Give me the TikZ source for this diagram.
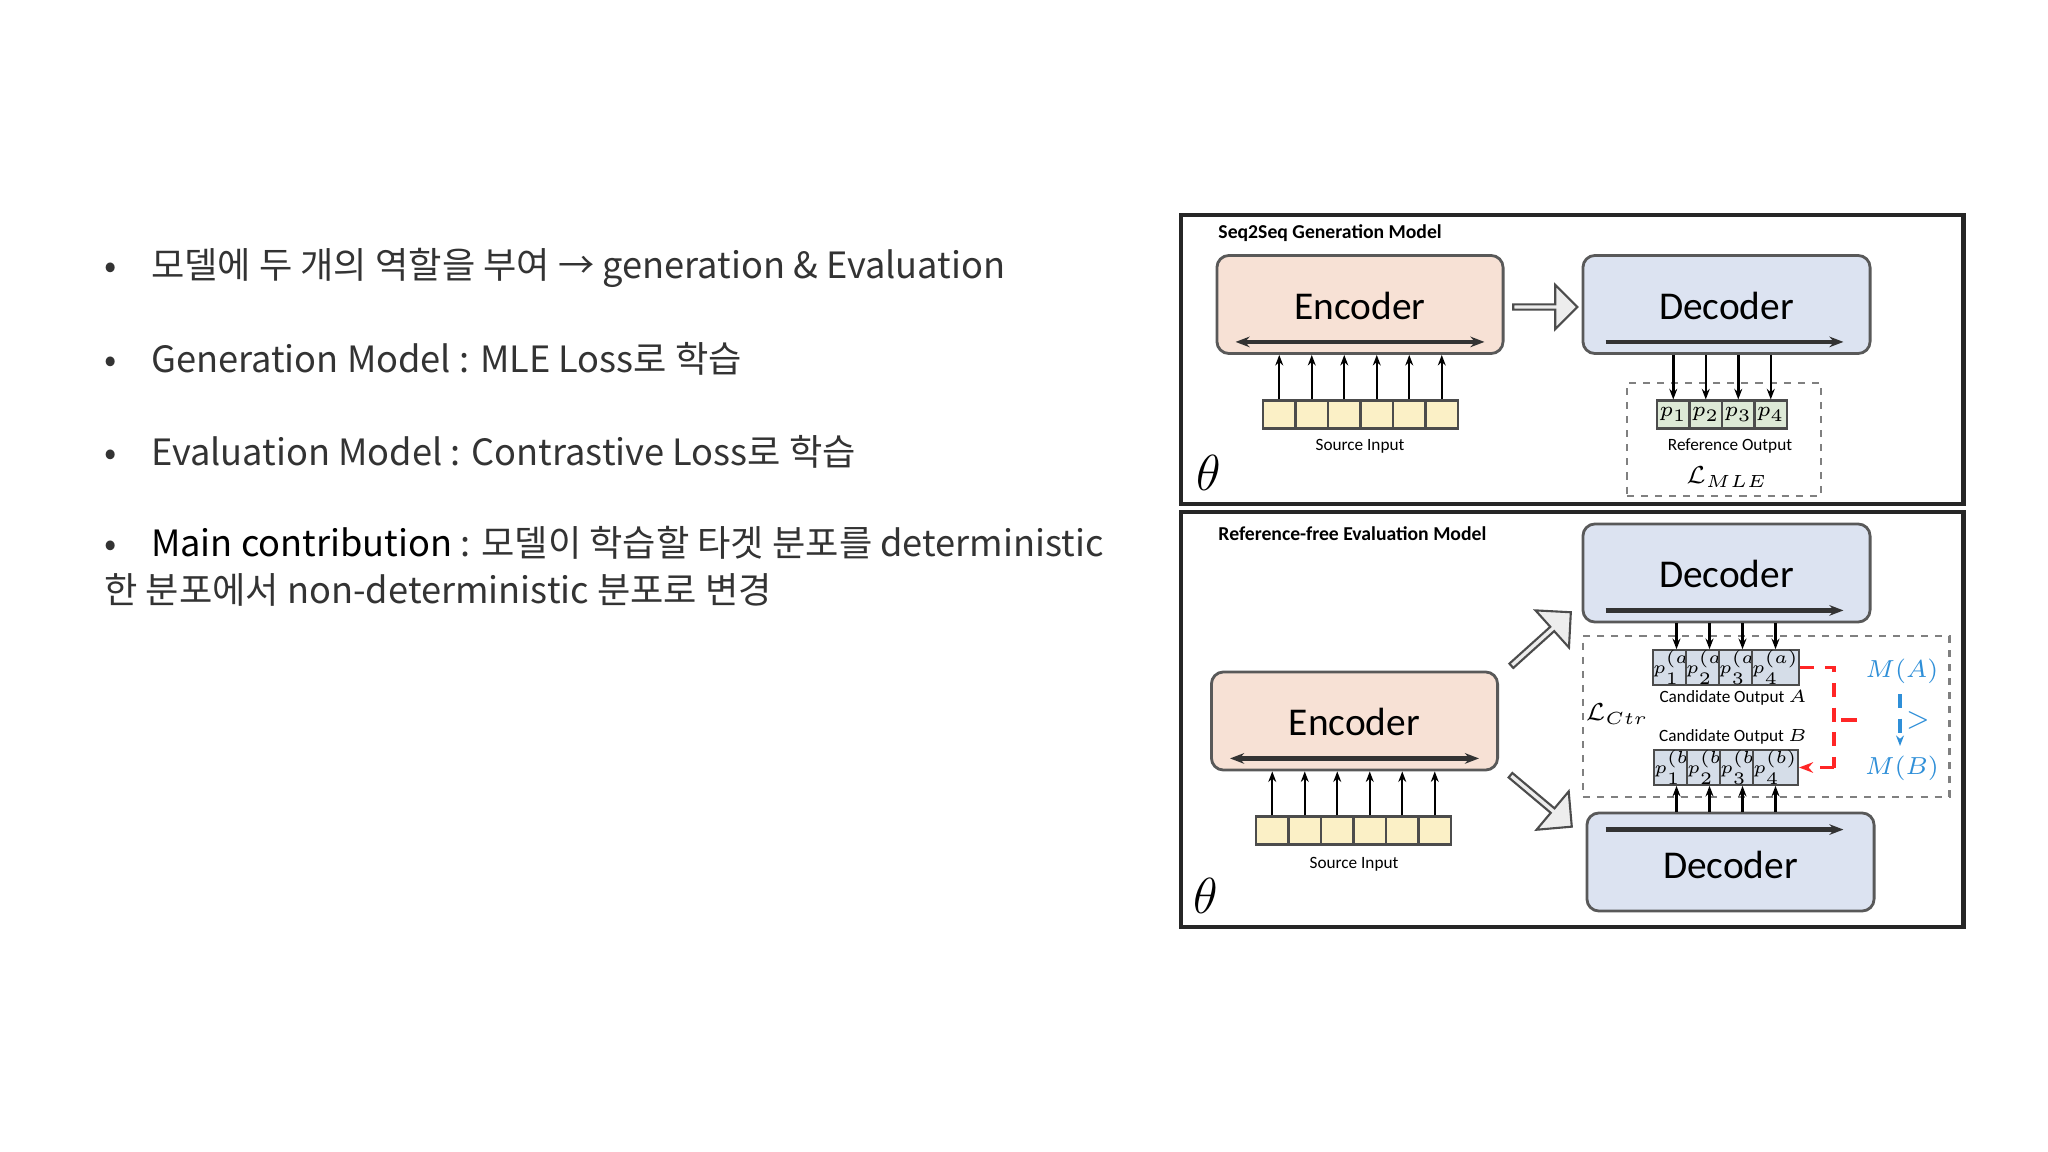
\documentclass[tikz,border=0pt]{standalone}
\usepackage{fontspec}
\setmainfont{Carlito}
\newfontfamily\kr{Noto Sans CJK KR}
\usetikzlibrary{shapes.arrows,arrows.meta}
\definecolor{encf}{HTML}{F7E1D5}
\definecolor{decf}{HTML}{DCE3F1}
\definecolor{srcf}{HTML}{FBF0C6}
\definecolor{pf}{HTML}{DDE9D6}
\definecolor{pcf}{HTML}{D5DDE8}
\definecolor{mblue}{HTML}{2F8FD8}
\tikzset{
 enc/.style={draw=black!65,fill=encf,rounded corners=0.12cm,line width=0.8pt,minimum width=2.86cm,minimum height=0.98cm},
 dec/.style={draw=black!65,fill=decf,rounded corners=0.12cm,line width=0.8pt,minimum width=2.87cm,minimum height=0.98cm},
 boxtxt/.style={font=\fontsize{11.2}{13}\selectfont},
 cell/.style={draw=black!70,minimum width=0.325cm,minimum height=0.28cm,inner sep=0,line width=0.6pt},
 blk/.style={single arrow,draw=black!70,fill=black!7,line width=0.6pt,minimum height=0.8cm,minimum width=0.5cm,single arrow head extend=0.08cm,inner sep=0},
 frame/.style={draw=black!85,line width=1.3pt},
 ttl/.style={font=\bfseries\fontsize{5.6}{7}\selectfont,anchor=west},
 small/.style={font=\fontsize{4.9}{6}\selectfont},
 bul/.style={anchor=west,font=\kr\fontsize{10.3}{12}\selectfont,text=black!80},
 thn/.style={-{Stealth[length=3pt]},line width=0.7pt},
 dsh/.style={draw=black!50,dashed,line width=0.8pt,dash pattern=on 2pt off 2pt},
 qcell/.style={cell,fill=pcf,minimum width=0.33cm,font=\fontsize{4.2}{5}\selectfont}
}
\begin{document}
\begin{tikzpicture}[x=0.01cm,y=-0.01cm]
\useasboundingbox (0,0) rectangle (2048,1152);
% left text
\node[bul] (b1) at (92,268) {•\hspace{0.95em}모델에 두 개의 역할을 부여 → generation \& Evaluation};
\node[bul] (b2) at (92,359) {•\hspace{0.95em}Generation Model : MLE Loss로 학습};
\node[bul] (b3) at (92,452) {•\hspace{0.95em}Evaluation Model : Contrastive Loss로 학습};
\node[bul] (b4) at (92,543) {•\hspace{0.95em}{\color{black}Main contribution} : 모델이 학습할 타겟 분포를 deterministic};
\node[bul] (b5) at (92,590) {한 분포에서 non-deterministic 분포로 변경};
% top frame
\node[frame,minimum width=7.82cm,minimum height=2.89cm,inner sep=0] (f1) at (1572,359.5) {};
\node[ttl] (t1) at (1206,233) {Seq2Seq Generation Model};
\node[enc] (e1) at (1360,304.5) {};
\node[boxtxt] (e1t) at (1360,306) {Encoder};
\node[dec] (d1) at (1726.5,304.5) {};
\node[boxtxt] (d1t) at (1726.5,306) {Decoder};
\node[blk,minimum height=0.64cm,minimum width=0.44cm] (a1) at (1544,307) {};
\draw[{Stealth[length=4pt]}-{Stealth[length=4pt]},line width=1.2pt,black!80] ([xshift=0.2cm,yshift=0.13cm]e1.south west) -- ([xshift=-0.2cm,yshift=0.13cm]e1.south east);
\draw[-{Stealth[length=4pt]},line width=1.2pt,black!80] ([xshift=0.24cm,yshift=0.13cm]d1.south west) -- ([xshift=-0.28cm,yshift=0.13cm]d1.south east);
\foreach \i in {1,...,6}{
 \node[cell,fill=srcf] (s\i) at (1263+32.5*\i-16.25,414.5) {};
 \draw[thn] (s\i.north) -- (s\i.north |- e1.south);
}
\node[small] (sl) at (1360,446) {Source Input};
\node[dsh,minimum width=1.94cm,minimum height=1.13cm] (db1) at (1724,439.5) {};
\foreach \i in {1,...,4}{
 \node[cell,fill=pf,font=\fontsize{6}{7}\selectfont] (p\i) at (1657+32.5*\i-16.25,414.5) {$p_{\i}$};
 \draw[thn] (p\i.north |- d1.south) -- (p\i.north);
}
\node[small] (rl) at (1730,446) {Reference Output};
\node[font=\fontsize{7.5}{9}\selectfont] (lm) at (1727,477) {$\mathcal{L}_{MLE}$};
\node[font=\fontsize{14}{16}\selectfont] (th1) at (1209,473) {$\theta$};
% bottom frame
\node[frame,minimum width=7.82cm,minimum height=4.15cm,inner sep=0] (f2) at (1572,719.5) {};
\node[ttl] (t2) at (1206,534) {Reference-free Evaluation Model};
\node[dsh,minimum width=3.66cm,minimum height=1.61cm] (db2) at (1766,716.5) {};
\node[dec] (d2) at (1726.5,573) {};
\node[boxtxt] (d2t) at (1726.5,574) {Decoder};
\draw[-{Stealth[length=4pt]},line width=1.2pt,black!80] ([xshift=0.24cm,yshift=0.13cm]d2.south west) -- ([xshift=-0.28cm,yshift=0.13cm]d2.south east);
\node[dec] (d3) at (1730.5,862) {};
\node[boxtxt] (d3t) at (1730.5,865) {Decoder};
\draw[-{Stealth[length=4pt]},line width=1.2pt,black!80] ([xshift=0.2cm,yshift=-0.18cm]d3.north west) -- ([xshift=-0.32cm,yshift=-0.18cm]d3.north east);
\node[enc] (e2) at (1354.5,721) {};
\node[boxtxt] (e2t) at (1354.5,722) {Encoder};
\draw[{Stealth[length=4pt]}-{Stealth[length=4pt]},line width=1.2pt,black!80] ([xshift=0.2cm,yshift=0.13cm]e2.south west) -- ([xshift=-0.2cm,yshift=0.13cm]e2.south east);
\foreach \i in {1,...,6}{
 \node[cell,fill=srcf] (u\i) at (1256+32.5*\i-16.25,830.5) {};
 \draw[thn] (u\i.north) -- (u\i.north |- e2.south);
}
\node[small] (ul) at (1354,864) {Source Input};
\foreach \i in {1,...,4}{
 \node[qcell,minimum height=0.29cm] (qa\i) at (1660+33*\i-16.5,667.5) {$p_{\i}^{\scriptscriptstyle(a)}$};
 \draw[thn] (qa\i.north |- d2.south) -- (qa\i.north);
 \node[qcell,minimum height=0.27cm] (qb\i) at (1660+33*\i-16.5,767.5) {$p_{\i}^{\scriptscriptstyle(b)}$};
 \draw[thn] (qb\i.south |- d3.north) -- (qb\i.south);
}
\node[small] (ca) at (1733,698) {Candidate Output $A$};
\node[small] (cb) at (1733,737) {Candidate Output $B$};
\node[font=\fontsize{7.5}{9}\selectfont] (lc) at (1617,714) {$\mathcal{L}_{Ctr}$};
\coordinate (r1) at (1834,667.5);
\coordinate (r2) at (1834,767.5);
\draw[red!85,line width=1pt,dash pattern=on 4pt off 3pt] (qa4.east) -- (r1) -- (r2);
\draw[red!85,line width=1pt,dash pattern=on 4pt off 3pt,-{Stealth[length=4pt]}] (r2) -- (qb4.east);
\coordinate (rm1) at (1841,720);
\coordinate (rm2) at (1857,720);
\draw[red!85,line width=1pt] (rm1) -- (rm2);
\node[text=mblue,font=\fontsize{7.5}{9}\selectfont] (ma) at (1902,671) {$M(A)$};
\node[text=mblue,font=\fontsize{7.5}{9}\selectfont] (mb) at (1902,768) {$M(B)$};
\node[text=mblue,font=\fontsize{8}{9}\selectfont] (gt) at (1918,720) {$>$};
\coordinate (bl1) at (1900,694);
\coordinate (bl2) at (1900,746);
\draw[mblue,line width=0.9pt,dash pattern=on 4pt off 3pt,-{Stealth[length=3pt]}] (bl1) -- (bl2);
\node[blk,rotate=42] (a2) at (1540,640) {};
\node[blk,rotate=-40] (a3) at (1540,800) {};
\node[font=\fontsize{14}{16}\selectfont] (th2) at (1206,896) {$\theta$};
\end{tikzpicture}
\end{document}
